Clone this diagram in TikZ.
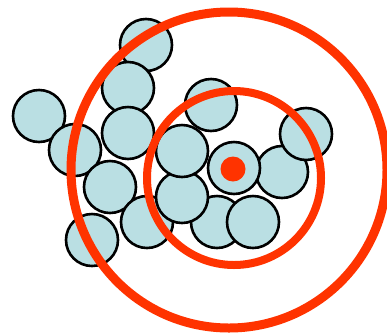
\documentclass[tikz,border=0pt]{standalone}
\definecolor{ballblue}{HTML}{BADFE3}
\definecolor{ringred}{HTML}{FF3300}
\begin{document}
\begin{tikzpicture}[x=1pt,y=-1pt,
  ball/.style={circle,draw=black,line width=2.6pt,fill=ballblue,minimum size=52pt,inner sep=0pt},
  ring/.style={circle,draw=ringred,inner sep=0pt}]
\useasboundingbox (0,0) rectangle (387,333);
\node[ball] (b1) at (146,45) {};
\node[ball] (b2) at (128,88) {};
\node[ball] (b3) at (39,116) {};
\node[ball] (b4) at (128,133) {};
\node[ball] (b5) at (75,150) {};
\node[ball] (b6) at (110,187) {};
\node[ball] (b7) at (92,240) {};
\node[ball] (b8) at (147,222) {};
\node[ball] (b9) at (211,105) {};
\node[ball] (b10) at (217,222) {};
\node[ball] (b11) at (253,222) {};
\node[ball] (b12) at (182,197) {};
\node[ball] (b13) at (182,151) {};
\node[ball] (b14) at (282,172) {};
\node[ball] (b15) at (306,134) {};
\node[ball] (b16) at (234,168) {};
\node[circle,fill=ringred,minimum size=25pt,inner sep=0pt] (dot) at (233,169) {};
\node[ring,line width=8pt,minimum size=174pt] (inner) at (234,178) {};
\node[ring,line width=9pt,minimum size=316pt] (outer) at (229,170) {};
\end{tikzpicture}
\end{document}
